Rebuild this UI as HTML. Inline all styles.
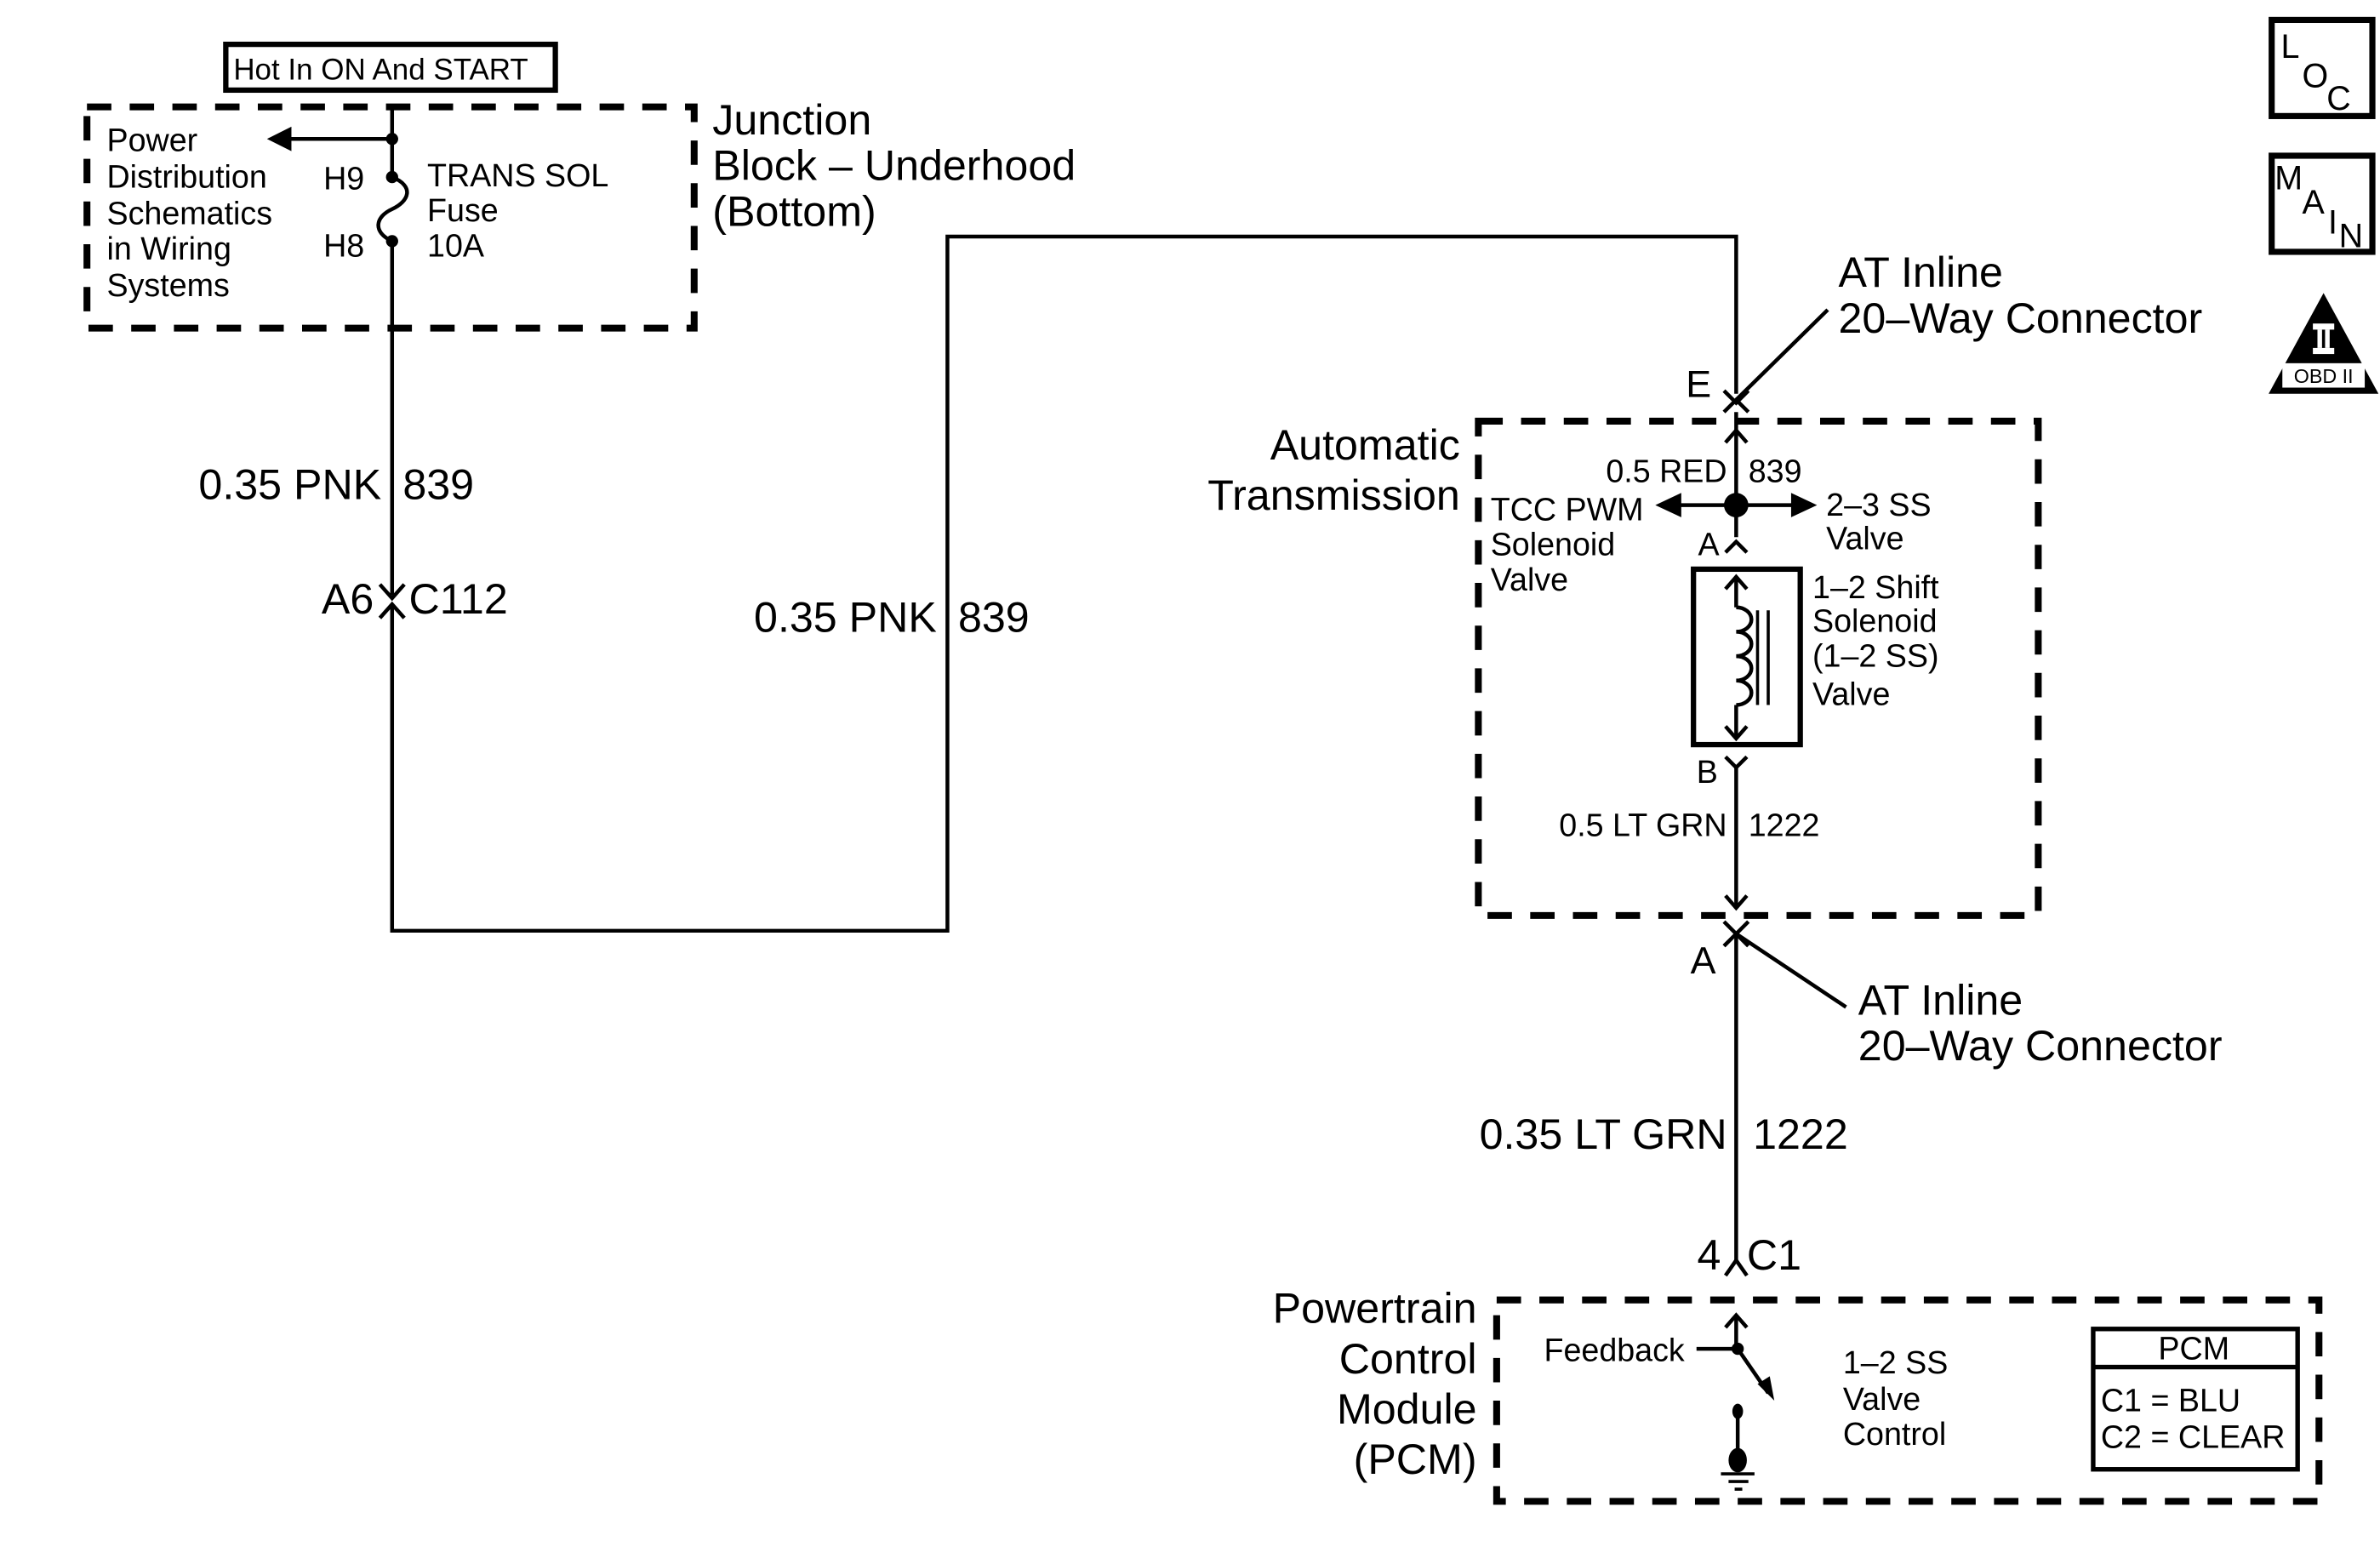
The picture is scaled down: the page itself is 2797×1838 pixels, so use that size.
<!DOCTYPE html>
<html><head><meta charset="utf-8"><style>
html,body{margin:0;padding:0;background:#fff}
svg{display:block}
text{font-family:"Liberation Sans",sans-serif;fill:#000}
</style></head><body>
<svg width="2797" height="1838" viewBox="0 0 1560 1025" xmlns="http://www.w3.org/2000/svg">
<g fill="none" stroke="#000" stroke-width="2.5">
<rect x="148" y="29" width="216" height="30" stroke-width="3.5"/>
<rect x="57" y="70" width="398" height="145" stroke-width="4.5" stroke-dasharray="16,12"/>
<rect x="969" y="276" width="367" height="324" stroke-width="4.5" stroke-dasharray="16,12"/>
<rect x="981" y="852" width="539" height="132" stroke-width="4.5" stroke-dasharray="16,12"/>
<path d="M257 70 V116"/>
<path d="M257 116 C272 122 268 132 257 137 C246 142 244 152 257 158"/>
<path d="M257 158 V390"/>
<path d="M249 383 L257 392 L265 383"/>
<path d="M249 405 L257 396 L265 405"/>
<path d="M257 396 V610 H621 V155 H1138 V258"/>
<path d="M257 91 H190"/>
<path d="M1130 256 L1138 264 L1146 256"/>
<path d="M1130 270 L1138 262 L1146 270"/>
<path d="M1138 262 L1198 203"/>
<path d="M1138 270 V352"/>
<path d="M1131 290 L1138 282 L1145 290"/>
<path d="M1100 331 H1176"/>
<path d="M1131 362 L1138 355 L1145 362"/>
<rect x="1110" y="373" width="70" height="115" stroke-width="3.5"/>
<path d="M1138 378 V398 M1138 462 V484"/>
<path d="M1131 386 L1138 378 L1145 386"/>
<path d="M1131 476 L1138 484 L1145 476"/>
<path d="M1138 398 a10 8 0 0 1 0 16 a10 8 0 0 1 0 16 a10 8 0 0 1 0 16 a10 8 0 0 1 0 16"/>
<path d="M1152 400 V462 M1159 400 V462" stroke-width="2"/>
<path d="M1131 496 L1138 503 L1145 496"/>
<path d="M1138 503 V595"/>
<path d="M1131 587 L1138 595 L1145 587"/>
<path d="M1130 604 L1138 612 L1146 604"/>
<path d="M1130 620 L1138 612 L1146 620"/>
<path d="M1138 612 L1210 660"/>
<path d="M1138 612 V826"/>
<path d="M1131 836 L1138 826 L1145 836"/>
<path d="M1138 862 V884"/>
<path d="M1131 870 L1138 862 L1145 870"/>
<path d="M1112 884 H1139"/>
<path d="M1139 884 L1159 913"/>
<path d="M1139 922 V955"/>
<path d="M1128 966 H1150 M1133 971 H1146 M1137 976 H1142" stroke-width="2"/>
<rect x="1372" y="871" width="134" height="92" stroke-width="3"/>
<path d="M1372 896 H1506" stroke-width="3"/>
<rect x="1489" y="13" width="66" height="63" stroke-width="4"/>
<rect x="1489" y="102" width="66" height="63" stroke-width="4"/>
</g>
<g fill="#000">
<circle cx="257" cy="91" r="4"/>
<circle cx="257" cy="116" r="4"/>
<circle cx="257" cy="158" r="4"/>
<polygon points="175,91 191,83 191,99"/>
<circle cx="1138" cy="331" r="8"/>
<polygon points="1085,331 1102,323 1102,339"/>
<polygon points="1191,331 1174,323 1174,339"/>
<circle cx="1139" cy="884" r="4"/>
<polygon points="1163,918 1152,907 1160,902"/>
<ellipse cx="1139" cy="925" rx="3.5" ry="5"/>
<ellipse cx="1139" cy="957" rx="6" ry="8"/>
<polygon points="1523,192 1487,258 1559,258"/>
</g>
<rect x="1516" y="212" width="14" height="4" fill="#fff"/>
<rect x="1519" y="216" width="3" height="12" fill="#fff"/>
<rect x="1524" y="216" width="3" height="12" fill="#fff"/>
<rect x="1516" y="228" width="14" height="4" fill="#fff"/>
<rect x="1496" y="238" width="54" height="16" fill="#fff"/>
<text x="1523" y="251" font-size="13" text-anchor="middle">OBD II</text>
<g font-size="21">
<text x="153" y="52" font-size="19.5">Hot In ON And START</text>
<text x="70" y="99">Power</text>
<text x="70" y="123">Distribution</text>
<text x="70" y="147">Schematics</text>
<text x="70" y="170">in Wiring</text>
<text x="70" y="194">Systems</text>
<text x="212" y="124">H9</text>
<text x="212" y="168">H8</text>
<text x="280" y="122">TRANS  SOL</text>
<text x="280" y="145">Fuse</text>
<text x="280" y="168">10A</text>
<text x="1132" y="316" text-anchor="end">0.5 RED</text>
<text x="1146" y="316">839</text>
<text x="977" y="341">TCC PWM</text>
<text x="977" y="364">Solenoid</text>
<text x="977" y="387">Valve</text>
<text x="1197" y="338">2–3 SS</text>
<text x="1197" y="360">Valve</text>
<text x="1113" y="364">A</text>
<text x="1188" y="392">1–2 Shift</text>
<text x="1188" y="414">Solenoid</text>
<text x="1188" y="437">(1–2 SS)</text>
<text x="1188" y="462">Valve</text>
<text x="1112" y="513">B</text>
<text x="1132" y="548" text-anchor="end">0.5 LT GRN</text>
<text x="1146" y="548">1222</text>
<text x="1012" y="892">Feedback</text>
<text x="1208" y="900">1–2 SS</text>
<text x="1208" y="924">Valve</text>
<text x="1208" y="947">Control</text>
<text x="1438" y="891" text-anchor="middle">PCM</text>
<text x="1377" y="925">C1 = BLU</text>
<text x="1377" y="949">C2 = CLEAR</text>
</g>
<g font-size="28">
<text x="467" y="88">Junction</text>
<text x="467" y="118">Block – Underhood</text>
<text x="467" y="148">(Bottom)</text>
<text x="250" y="327" text-anchor="end">0.35 PNK</text>
<text x="264" y="327">839</text>
<text x="245" y="402" text-anchor="end">A6</text>
<text x="268" y="402">C112</text>
<text x="614" y="414" text-anchor="end">0.35 PNK</text>
<text x="628" y="414">839</text>
<text x="1105" y="260" font-size="25">E</text>
<text x="1205" y="188">AT Inline</text>
<text x="1205" y="218">20–Way Connector</text>
<text x="957" y="301" text-anchor="end">Automatic</text>
<text x="957" y="334" text-anchor="end">Transmission</text>
<text x="1108" y="638" font-size="25">A</text>
<text x="1218" y="665">AT Inline</text>
<text x="1218" y="695">20–Way Connector</text>
<text x="1132" y="753" text-anchor="end">0.35 LT GRN</text>
<text x="1149" y="753">1222</text>
<text x="1128" y="832" text-anchor="end">4</text>
<text x="1145" y="832">C1</text>
<text x="968" y="867" text-anchor="end">Powertrain</text>
<text x="968" y="900" text-anchor="end">Control</text>
<text x="968" y="933" text-anchor="end">Module</text>
<text x="968" y="966" text-anchor="end">(PCM)</text>
</g>
<g font-size="22">
<text x="1495" y="38">L</text>
<text x="1509" y="57">O</text>
<text x="1525" y="72">C</text>
<text x="1491" y="124">M</text>
<text x="1509" y="140">A</text>
<text x="1526" y="153">I</text>
<text x="1533" y="162">N</text>
</g>
</svg>
</body></html>
